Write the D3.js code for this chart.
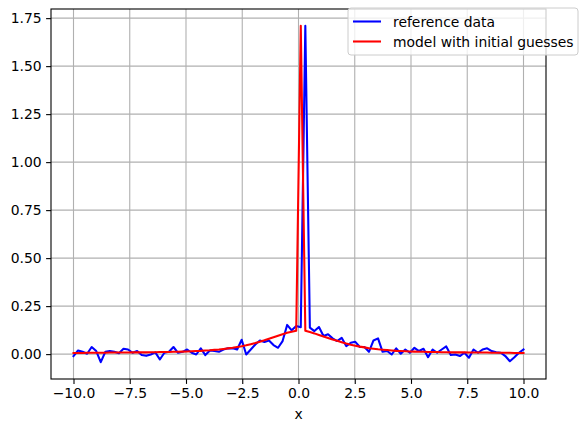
<!DOCTYPE html>
<html>
<head>
<meta charset="utf-8">
<script src="https://cdn.jsdelivr.net/npm/d3@7"></script>
<style>
  body { margin: 0; background: white; }
  text { font-family: "DejaVu Sans", sans-serif; }
</style>
</head>
<body>
<div id="chart"></div>
<script>
// x grid (100 points from -10 to 10)
var xs = [-10.000, -9.798, -9.596, -9.394, -9.192, -8.990, -8.788, -8.586, -8.384, -8.182,
          -7.980, -7.778, -7.576, -7.374, -7.172, -6.970, -6.768, -6.566, -6.364, -6.162,
          -5.960, -5.758, -5.556, -5.354, -5.152, -4.949, -4.747, -4.545, -4.343, -4.141,
          -3.939, -3.737, -3.535, -3.333, -3.131, -2.929, -2.727, -2.525, -2.323, -2.121,
          -1.919, -1.717, -1.515, -1.313, -1.111, -0.909, -0.707, -0.505, -0.303, -0.101,
           0.101,  0.303,  0.505,  0.707,  0.909,  1.111,  1.313,  1.515,  1.717,  1.919,
           2.121,  2.323,  2.525,  2.727,  2.929,  3.131,  3.333,  3.535,  3.737,  3.939,
           4.141,  4.343,  4.545,  4.747,  4.949,  5.152,  5.354,  5.556,  5.758,  5.960,
           6.162,  6.364,  6.566,  6.768,  6.970,  7.172,  7.374,  7.576,  7.778,  7.980,
           8.182,  8.384,  8.586,  8.788,  8.990,  9.192,  9.394,  9.596,  9.798, 10.000];

// noisy reference data
var referenceData = [-0.010, 0.019, 0.012, 0.002, 0.037, 0.016, -0.042, 0.012, 0.016, 0.012,
                      0.005, 0.028, 0.024, 0.007, 0.016, -0.005, -0.009, -0.002, 0.009, -0.028,
                      0.007, 0.012, 0.037, 0.007, 0.012, 0.024, 0.007, -0.002, 0.030, -0.005,
                      0.019, 0.016, 0.012, 0.024, 0.030, 0.031, 0.024, 0.075, -0.002, 0.024,
                      0.050, 0.071, 0.063, 0.071, 0.047, 0.033, 0.068, 0.152, 0.124, 0.146,
                      0.140, 1.710, 0.138, 0.120, 0.141, 0.094, 0.103, 0.082, 0.068, 0.085,
                      0.042, 0.059, 0.064, 0.037, 0.037, 0.012, 0.071, 0.082, 0.012, 0.016,
                     -0.002, 0.030, 0.002, 0.024, 0.007, 0.033, 0.016, 0.028, -0.016, 0.024,
                      0.007, 0.024, 0.040, -0.005, -0.002, -0.010, 0.007, -0.019, 0.024, 0.007,
                      0.024, 0.030, 0.016, 0.010, 0.007, -0.010, -0.037, -0.016, 0.007, 0.024];

// model evaluated with the initial guesses
var modelData = [0.006, 0.006, 0.006, 0.007, 0.007, 0.007, 0.007, 0.007, 0.008, 0.008,
                 0.008, 0.008, 0.008, 0.009, 0.009, 0.009, 0.009, 0.010, 0.010, 0.011,
                 0.011, 0.011, 0.012, 0.012, 0.013, 0.014, 0.015, 0.016, 0.017, 0.019,
                 0.020, 0.022, 0.024, 0.027, 0.030, 0.033, 0.037, 0.041, 0.046, 0.052,
                 0.058, 0.065, 0.072, 0.080, 0.088, 0.096, 0.104, 0.111, 0.117, 0.122,
                 1.710, 0.122, 0.115, 0.108, 0.100, 0.092, 0.084, 0.076, 0.069, 0.062,
                 0.055, 0.049, 0.044, 0.039, 0.035, 0.031, 0.028, 0.025, 0.023, 0.021,
                 0.019, 0.017, 0.016, 0.015, 0.014, 0.013, 0.012, 0.012, 0.011, 0.011,
                 0.011, 0.010, 0.010, 0.009, 0.009, 0.009, 0.009, 0.008, 0.008, 0.008,
                 0.008, 0.008, 0.007, 0.007, 0.007, 0.007, 0.007, 0.006, 0.006, 0.006];

var xTicks = [-10, -7.5, -5, -2.5, 0, 2.5, 5, 7.5, 10];
var yTicks = [0, 0.25, 0.5, 0.75, 1.0, 1.25, 1.5, 1.75];

var seriesNames = ["reference data", "model with initial guesses"];
var seriesColors = ["#0000ff", "#ff0000"];

//set up the svg
var width = 588, height = 432;
var margin = {left: 51, right: 42, top: 9, bottom: 53};
var svg = d3.select("#chart").append("svg")
    .attr("width", width).attr("height", height)
    .style("background-color", "white");

//matplotlib style 5% margins around the data
var yMin = d3.min([d3.min(referenceData), d3.min(modelData)]);
var yMax = d3.max([d3.max(referenceData), d3.max(modelData)]);
var yPad = (yMax - yMin) * 0.05;
var xPad = (d3.max(xs) - d3.min(xs)) * 0.05;

var x = d3.scaleLinear()
    .domain([d3.min(xs) - xPad, d3.max(xs) + xPad])
    .range([margin.left, width - margin.right]);
var y = d3.scaleLinear()
    .domain([yMin - yPad, yMax + yPad])
    .range([height - margin.bottom, margin.top]);

var fontSize = "13.9px";
var fmtX = function(d) { return d3.format(".1f")(d).replace("-", "\u2212"); };
var fmtY = function(d) { return d3.format(".2f")(d); };

//grid lines
var grid = svg.append("g");
grid.selectAll("line.gx").data(xTicks).enter().append("line")
    .attr("x1", function(d) { return x(d); }).attr("x2", function(d) { return x(d); })
    .attr("y1", margin.top).attr("y2", height - margin.bottom)
    .style("stroke", "#b0b0b0").style("stroke-width", 1.1);
grid.selectAll("line.gy").data(yTicks).enter().append("line")
    .attr("y1", function(d) { return y(d); }).attr("y2", function(d) { return y(d); })
    .attr("x1", margin.left).attr("x2", width - margin.right)
    .style("stroke", "#b0b0b0").style("stroke-width", 1.1);

//the two lines
var line = d3.line()
    .x(function(d, i) { return x(xs[i]); })
    .y(function(d) { return y(d); });

[referenceData, modelData].forEach(function(series, k) {
    svg.append("path")
        .datum(series)
        .attr("d", line)
        .style("fill", "none")
        .style("stroke", seriesColors[k])
        .style("stroke-width", 2.08)
        .style("stroke-linejoin", "round")
        .style("stroke-linecap", "square");
});

//axes
var xAxis = svg.append("g")
    .attr("transform", "translate(0," + (height - margin.bottom) + ")")
    .call(d3.axisBottom(x).tickValues(xTicks).tickFormat(fmtX).tickSizeOuter(0).tickSize(4.9).tickPadding(4));
var yAxis = svg.append("g")
    .attr("transform", "translate(" + margin.left + ",0)")
    .call(d3.axisLeft(y).tickValues(yTicks).tickFormat(fmtY).tickSizeOuter(0).tickSize(4.9).tickPadding(4.5));

[xAxis, yAxis].forEach(function(ax) {
    ax.select(".domain").remove();
    ax.selectAll("line").style("stroke", "black").style("stroke-width", 1.1);
    ax.selectAll("text")
        .attr("fill", "black")
        .style("font-family", "DejaVu Sans")
        .style("font-size", fontSize);
});

//frame around the plotting area
svg.append("rect")
    .attr("x", margin.left).attr("y", margin.top)
    .attr("width", width - margin.left - margin.right)
    .attr("height", height - margin.top - margin.bottom)
    .style("fill", "none").style("stroke", "black").style("stroke-width", 1.1);

//x axis label
svg.append("text")
    .attr("x", (margin.left + width - margin.right) / 2)
    .attr("y", 419)
    .attr("text-anchor", "middle")
    .style("font-size", fontSize)
    .text("x");

//legend, sits partly outside the axes on the top right
var legend = svg.append("g").attr("transform", "translate(348,8)");
legend.append("rect")
    .attr("width", 230).attr("height", 47)
    .attr("rx", 3).attr("ry", 3)
    .style("fill", "white").style("fill-opacity", 0.8)
    .style("stroke", "#cccccc").style("stroke-width", 1);
seriesNames.forEach(function(name, k) {
    var ly = 13.5 + k * 20;
    legend.append("line")
        .attr("x1", 5).attr("x2", 33)
        .attr("y1", ly).attr("y2", ly)
        .style("stroke", seriesColors[k]).style("stroke-width", 2.08);
    legend.append("text")
        .attr("x", 45).attr("y", ly + 5)
        .style("font-size", fontSize)
        .text(name);
});
</script>
</body>
</html>
